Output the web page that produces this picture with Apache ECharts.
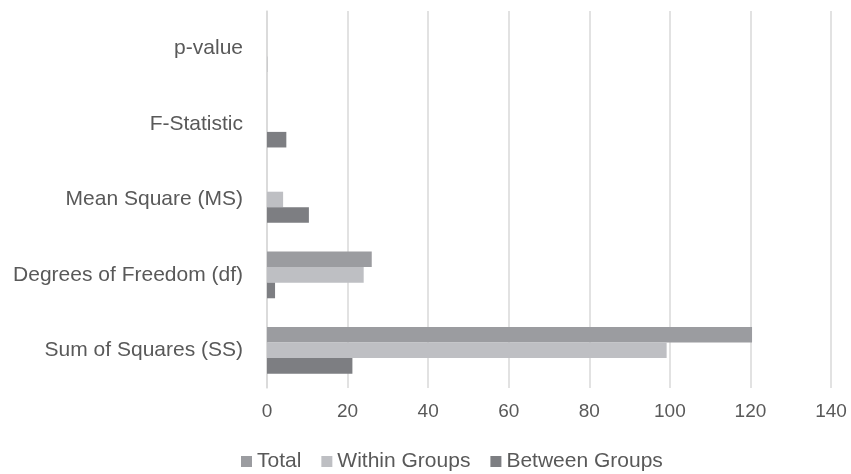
<!DOCTYPE html>
<html>
<head>
<meta charset="utf-8">
<script src="https://cdn.jsdelivr.net/npm/echarts@6/dist/echarts.min.js"></script>
<style>
  html, body { margin: 0; padding: 0; background: #fff; }
  #chart { width: 851px; height: 474px; }
</style>
</head>
<body>
<div id="chart"></div>
<script>
// ANOVA summary
const categories = ["Sum of Squares (SS)", "Degrees of Freedom (df)", "Mean Square (MS)", "F-Statistic", "p-value"];
const totalValues = [120.4, 26, null, null, null];
const withinValues = [99.2, 24, 4.0, null, null];
const betweenValues = [21.2, 2, 10.4, 4.8, 0.04];
const xTicks = { min: 0, max: 140, interval: 20 };

const chart = echarts.init(document.getElementById("chart"));
const textColor = "#595959";
const font = "Liberation Sans, Arial, sans-serif";

const option = {
  animation: false,
  grid: { left: 267, right: 20, top: 11, bottom: 86 },
  legend: {
    data: ["Total", "Within Groups", "Between Groups"],
    top: 451,
    left: 241,
    padding: 0,
    icon: "rect",
    itemWidth: 11,
    itemHeight: 11,
    itemGap: 20,
    textStyle: { color: textColor, fontSize: 21, fontFamily: font }
  },
  xAxis: {
    type: "value",
    min: xTicks.min,
    max: xTicks.max,
    interval: xTicks.interval,
    axisLine: { show: false },
    axisTick: { show: false },
    axisLabel: { color: textColor, fontSize: 19, fontFamily: font, margin: 14 },
    splitLine: { lineStyle: { color: "#d9d9d9", width: 1.5 } }
  },
  yAxis: {
    type: "category",
    data: categories,
    axisLine: { lineStyle: { color: "#d9d9d9", width: 1.5 } },
    axisTick: { show: false },
    axisLabel: { color: textColor, fontSize: 21, fontFamily: font, margin: 24 }
  },
  series: [
    {
      name: "Total", type: "bar", data: totalValues,
      barGap: 0, barCategoryGap: "38%",
      itemStyle: { color: "#9b9ca0" }
    },
    {
      name: "Within Groups", type: "bar", data: withinValues,
      barGap: 0, barCategoryGap: "38%",
      itemStyle: { color: "#bebfc3" }
    },
    {
      name: "Between Groups", type: "bar", data: betweenValues,
      barGap: 0, barCategoryGap: "38%",
      itemStyle: { color: "#7d7e82" }
    }
  ]
};

chart.setOption(option);
window.addEventListener("resize", () => chart.resize());
</script>
</body>
</html>
